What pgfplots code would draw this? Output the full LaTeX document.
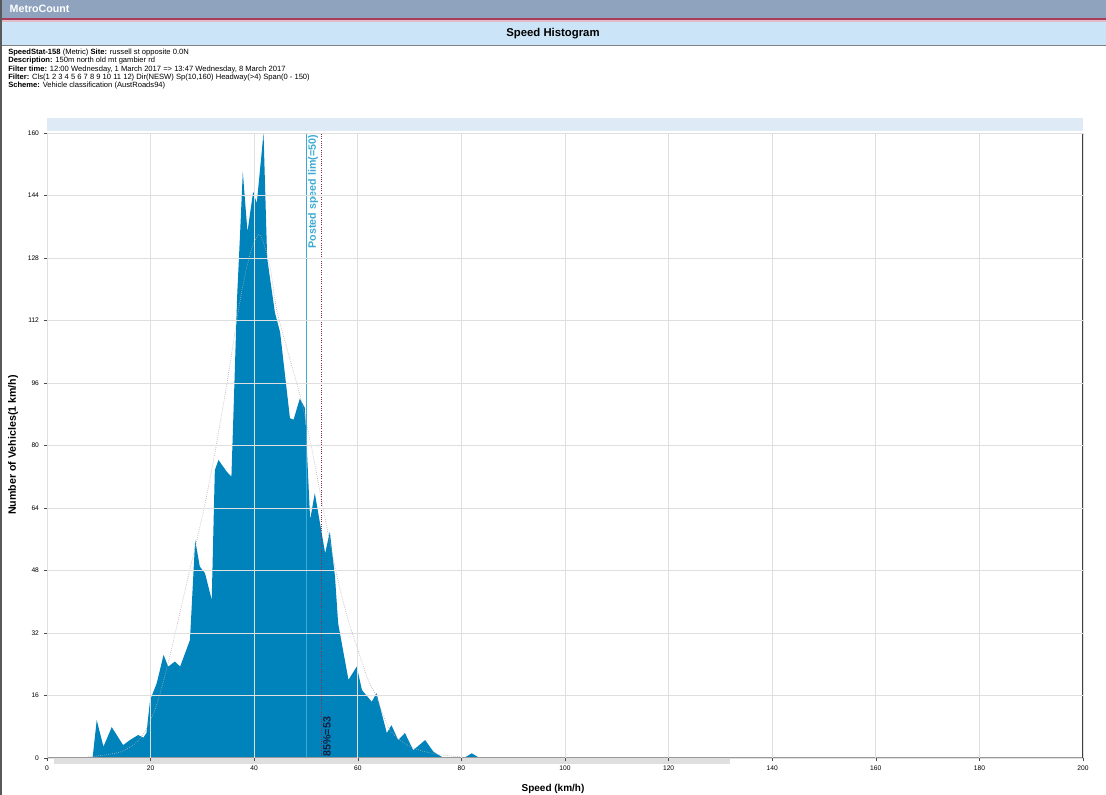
\documentclass[border=0pt]{standalone}
\usepackage{pgfplots}
\pgfplotsset{compat=1.18}
\usepackage{fontspec}
\setmainfont{Liberation Sans}
\definecolor{areablue}{RGB}{0,130,186}
\definecolor{barblue}{RGB}{204,228,247}
\definecolor{topbar}{RGB}{143,163,190}
\definecolor{redline}{RGB}{170,60,90}
\definecolor{postcol}{RGB}{60,170,210}
\definecolor{bandblue}{RGB}{222,234,246}
\definecolor{navy}{RGB}{20,30,60}

\begin{document}
\begin{tikzpicture}
% page furniture, in pixel units of the reference
\begin{scope}[x=0.75pt,y=-0.75pt]
  \path[use as bounding box] (0,0) rectangle (1106,795);
  \fill[white] (0,0) rectangle (1106,795);
  \fill[topbar] (0,0) rectangle (1106,18);
  \node[anchor=west, text=white, font=\bfseries\fontsize{8}{9}\selectfont] at (5,9) {MetroCount};
  \fill[redline] (0,18) rectangle (1106,20.5);
  \fill[redline!35] (0,20.5) rectangle (1106,22);
  \fill[barblue] (0,22) rectangle (1106,45);
  \draw[gray, line width=0.5pt] (0,45.5) -- (1106,45.5);
  \node[font=\bfseries\fontsize{8.5}{10}\selectfont] at (553,34) {Speed Histogram};
  \draw[gray!70!black, line width=1.5pt] (1,0) -- (1,795);
  \node[anchor=north west, align=left, inner sep=0pt, font=\fontsize{5.7}{6.3}\selectfont] at (8,48.5) {%
    \textbf{SpeedStat-158} (Metric) \textbf{Site:} russell st opposite 0.0N\\
    \textbf{Description:} 150m north old mt gambier rd\\
    \textbf{Filter time:} 12:00 Wednesday, 1 March 2017 => 13:47 Wednesday, 8 March 2017\\
    \textbf{Filter:} Cls(1 2 3 4 5 6 7 8 9 10 11 12) Dir(NESW) Sp(10,160) Headway(>4) Span(0 - 150)\\
    \textbf{Scheme:} Vehicle classification (AustRoads94)};
  \fill[bandblue] (47,118) rectangle (1083,131);
  \fill[gray!25] (54,759) rectangle (730,764);
  \node[rotate=90, font=\bfseries\fontsize{8}{9}\selectfont] at (13,445) {Number of Vehicles(1 km/h)};
  \node[font=\bfseries\fontsize{7.5}{9}\selectfont] at (553,789) {Speed (km/h)};
\end{scope}

\begin{axis}[
  at={(35.25pt,-568.5pt)}, anchor=south west,
  width=777pt, height=468.75pt, scale only axis,
  xmin=0, xmax=200, ymin=0, ymax=160,
  xtick={0,20,...,200}, ytick={0,16,...,160},
  xtick pos=lower, ytick pos=left,
  grid=major, grid style={gray!25, line width=0.5pt},
  axis on top,
  axis line style={draw=none},
  tick style={gray!60!black, line width=0.4pt},
  tick align=outside, major tick length=2.5pt,
  tick label style={font=\fontsize{5}{6}\selectfont},
  /pgf/number format/assume math mode=true,
]
% speed distribution (1 km/h bins)
\addplot[fill=areablue, draw=none] coordinates {
  (0,0) (8.8,0) (9.6,9.7) (10.9,2.9) (12.5,7.9) (14.7,3.3) (16,4.6) (17.6,5.9)
  (18.6,5.2) (19.2,6.4) (19.9,14.8) (21.2,19.2) (22.5,26.4) (23.4,23.4) (24.7,24.7)
  (25.7,23.4) (27.6,30.2) (28.6,55.8) (29.5,49) (30.5,47.3) (31.8,40.5) (32.4,73.7)
  (33.1,76.3) (34.7,73.3) (35.6,72) (36.1,92.5) (36.7,118) (37.3,135) (37.8,150)
  (38.7,134.7) (39.8,145) (40.5,142) (41.8,160) (42.5,128) (44,114) (45,109)
  (46.9,87) (47.6,86.6) (48.8,92) (49.8,89.6) (50.8,61) (51.7,67.8) (53.7,52.4)
  (54.6,57.9) (55.6,46.4) (56.2,34.5) (58.2,20) (59.8,23.4) (60.8,17.4) (62.7,14.4)
  (63.6,16.6) (65.6,6.4) (66.5,8.4) (67.8,4.6) (69.1,6.4) (70.7,2) (73,4.6) (74.6,1.6)
  (76.2,0.3) (77,0) (80.5,0) (82,1.2) (83.5,0) (200,0)
} \closedcycle;
% fitted curve
\addplot[gray!60, densely dotted, smooth, line width=0.5pt] coordinates {
  (8,0.3) (14,1.5) (18,5) (21,13) (23.7,26) (27,45) (30,62) (32.4,78) (35,98)
  (37,115) (39,128) (41,134) (43,126) (44.3,115) (46.5,104) (48.8,93) (51,80)
  (53.3,64) (55.9,47) (58,36) (59.8,28.5) (62,20) (63.6,15.7) (66.2,7.2) (70,3)
  (75,1) (80,0.3)
};
% zero run at the left
\addplot[black!70, densely dashed, line width=0.6pt] coordinates {(0,0) (9,0)};
% posted speed limit
\addplot[postcol, line width=0.7pt] coordinates {(50,0) (50,160)};
\node[rotate=90, anchor=north east, text=postcol, inner sep=1.5pt,
  font=\bfseries\fontsize{8}{9}\selectfont] at (axis cs:50,160) {Posted speed lim(=50)};
% 85th percentile
\addplot[redline!80!black, densely dotted, line width=0.7pt] coordinates {(53,0) (53,160)};
\node[rotate=90, anchor=north west, text=navy, inner sep=1pt,
  font=\bfseries\fontsize{8}{9}\selectfont] at (axis cs:53,0) {85\%=53};
% frame
\draw[gray!80, line width=0.8pt] (axis cs:0,160) -- (axis cs:0,0) -- (axis cs:200,0);
\draw[gray!50!black, line width=0.8pt] (axis cs:200,0) -- (axis cs:200,160);
\end{axis}
\end{tikzpicture}
\end{document}
